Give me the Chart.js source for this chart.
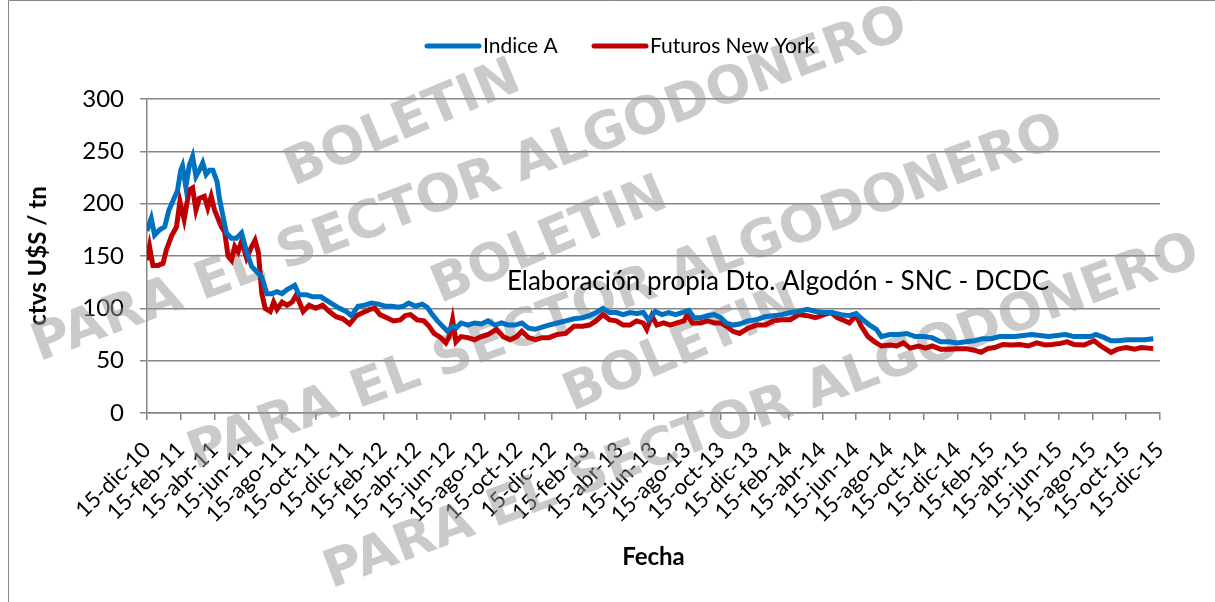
<!DOCTYPE html>
<html>
<head>
<meta charset="utf-8">
<script src="https://cdn.jsdelivr.net/npm/chart.js@4.4.1/dist/chart.umd.min.js"></script>
<style>
  html, body { margin: 0; padding: 0; background: #fff; }
  #wrap { position: relative; width: 1215px; height: 602px; }
</style>
</head>
<body>
<div id="wrap"><canvas id="chart" width="1215" height="602"></canvas></div>
<script>
// x values are months counted from 15-dic-10
const tickLabels = [
    '15-dic-10', '15-feb-11', '15-abr-11', '15-jun-11', '15-ago-11', '15-oct-11',
    '15-dic-11', '15-feb-12', '15-abr-12', '15-jun-12', '15-ago-12', '15-oct-12',
    '15-dic-12', '15-feb-13', '15-abr-13', '15-jun-13', '15-ago-13', '15-oct-13',
    '15-dic-13', '15-feb-14', '15-abr-14', '15-jun-14', '15-ago-14', '15-oct-14',
    '15-dic-14', '15-feb-15', '15-abr-15', '15-jun-15', '15-ago-15', '15-oct-15',
    '15-dic-15'
];

const indiceMonths = [
    0, 0.25, 0.45, 0.75, 1.05, 1.3, 1.6, 1.8, 2.0, 2.1,
    2.3, 2.5, 2.7, 2.9, 3.1, 3.3, 3.5, 3.7, 3.9, 4.15,
    4.3, 4.5, 4.7, 5.0, 5.3, 5.6, 5.9, 6.2, 6.5, 6.8,
    7.1, 7.4, 7.7, 8.0, 8.3, 8.75, 9.0, 9.45, 9.8, 10.3,
    10.8, 11.4, 11.8, 12.1, 12.5, 12.9, 13.3, 13.7, 14.1, 14.5,
    14.9, 15.2, 15.5, 15.9, 16.3, 16.6, 16.9, 17.2, 17.5, 17.8,
    18.1, 18.3, 18.6, 19.0, 19.4, 19.8, 20.2, 20.6, 21.0, 21.4,
    21.8, 22.2, 22.6, 23.0, 23.4, 23.8, 24.3, 24.8, 25.3, 25.8,
    26.2, 26.6, 27.0, 27.4, 27.8, 28.2, 28.6, 29.0, 29.4, 29.7,
    30.1, 30.5, 30.9, 31.3, 31.7, 32.1, 32.4, 32.8, 33.2, 33.6,
    34.0, 34.3, 34.7, 35.1, 35.6, 36.1, 36.6, 37.1, 37.6, 38.1,
    38.6, 39.1, 39.6, 40.1, 40.6, 41.1, 41.6, 42.0, 42.4, 42.8,
    43.2, 43.5, 44.0, 44.5, 45.0, 45.5, 46.0, 46.5, 47.0, 47.5,
    48.0, 48.5, 49.0, 49.5, 50.0, 50.5, 51.0, 51.4, 51.9, 52.4,
    52.9, 53.4, 53.9, 54.4, 54.9, 55.4, 55.9, 56.2, 56.7, 57.1,
    57.5, 58.1, 58.6, 59.1, 59.6
];
const indiceValues = [
    174, 186, 170, 175, 178, 194, 205, 212, 232, 236,
    216, 236, 245, 226, 232, 239, 228, 232, 232, 221,
    204, 188, 172, 167, 167, 172, 154, 140, 135, 130,
    114, 114, 116, 114, 118, 122, 113, 113, 111, 111,
    106, 100, 97, 93, 102, 103, 105, 104, 102, 102,
    101, 102, 105, 102, 104, 101, 94, 88, 83, 78,
    83, 81, 86, 84, 86, 85, 88, 84, 86, 84,
    84, 86, 81, 80, 82, 84, 86, 88, 90, 91,
    93, 96, 100, 96, 96, 94, 96, 95, 96, 89,
    97, 94, 96, 94, 96, 98, 91, 91, 93, 94,
    91, 86, 84, 85, 88, 89, 92, 93, 94, 96,
    97, 99, 97, 96, 96, 94, 93, 95, 89, 84,
    80, 73, 75, 75, 76, 73, 73, 72, 68, 68,
    67, 68, 69, 71, 71, 73, 73, 73, 74, 75,
    74, 73, 74, 75, 73, 73, 73, 75, 72, 69,
    69, 70, 70, 70, 71
];

const futurosMonths = [
    0, 0.15, 0.35, 0.65, 0.95, 1.15, 1.45, 1.75, 1.95, 2.2,
    2.5, 2.7, 2.9, 3.1, 3.4, 3.6, 3.8, 4.0, 4.2, 4.4,
    4.6, 4.8, 5.0, 5.2, 5.4, 5.6, 5.9, 6.2, 6.4, 6.6,
    6.8, 7.0, 7.3, 7.5, 7.7, 8.0, 8.3, 8.6, 8.85, 9.25,
    9.6, 10.0, 10.4, 10.8, 11.2, 11.6, 12.0, 12.4, 12.8, 13.2,
    13.5, 13.8, 14.2, 14.6, 15.0, 15.3, 15.6, 16.0, 16.4, 16.7,
    17.0, 17.4, 17.7, 17.9, 18.1, 18.3, 18.6, 19.0, 19.4, 19.8,
    20.2, 20.7, 21.1, 21.5, 21.9, 22.2, 22.6, 23.0, 23.4, 23.8,
    24.3, 24.8, 25.3, 25.8, 26.2, 26.6, 27.0, 27.4, 27.8, 28.2,
    28.6, 29.0, 29.4, 29.6, 29.9, 30.2, 30.6, 31.0, 31.4, 31.8,
    32.0, 32.3, 32.8, 33.2, 33.6, 34.0, 34.3, 34.7, 35.1, 35.6,
    36.1, 36.6, 37.1, 37.6, 38.1, 38.6, 39.1, 39.6, 40.1, 40.5,
    40.9, 41.2, 41.6, 42.0, 42.3, 42.7, 43.1, 43.5, 44.0, 44.4,
    44.8, 45.2, 45.7, 46.1, 46.5, 47.0, 47.5, 48.0, 48.5, 49.0,
    49.4, 49.8, 50.2, 50.7, 51.2, 51.7, 52.2, 52.7, 53.2, 53.6,
    54.1, 54.5, 54.9, 55.5, 56.1, 56.5, 57.1, 57.5, 58.0, 58.5,
    58.9, 59.6
];
const futurosValues = [
    146, 159, 141, 141, 143, 156, 169, 178, 202, 185,
    213, 215, 194, 205, 207, 196, 207, 194, 186, 178,
    173, 150, 146, 159, 154, 164, 148, 159, 165, 153,
    114, 100, 97, 106, 99, 106, 103, 106, 113, 97,
    103, 100, 103, 97, 92, 90, 85, 93, 96, 99,
    100, 94, 91, 88, 89, 93, 94, 89, 88, 83,
    76, 72, 67, 73, 89, 68, 73, 72, 70, 73,
    75, 80, 73, 70, 73, 78, 72, 70, 72, 72,
    75, 76, 83, 83, 84, 88, 94, 89, 88, 84,
    84, 88, 86, 80, 93, 84, 86, 84, 86, 88,
    94, 86, 86, 88, 86, 86, 83, 78, 76, 81,
    84, 84, 88, 89, 89, 94, 93, 91, 94, 96,
    91, 89, 86, 93, 83, 73, 68, 64, 65, 64,
    67, 62, 64, 62, 64, 61, 61, 61.5, 61.5, 60,
    58, 61.5, 62.5, 65.5, 65, 65.5, 64, 67, 65, 65.5,
    66.5, 68, 65.5, 65, 69, 64, 58, 61, 62.5, 61,
    62.5, 61.5
];

const seriesNames = ['Indice A', 'Futuros New York'];
const seriesColors = ['#0070C0', '#C00000'];
const noteText = 'Elaboración propia Dto. Algodón - SNC - DCDC';

const toPoints = (xs, ys) => xs.map((x, i) => ({ x: x, y: ys[i] }));

// watermark, legend, note and outer frame
const decorPlugin = {
    id: 'decor',
    beforeDatasetsDraw(chart) {
        const ctx = chart.ctx;
        // text, centre x, centre y, width, angle
        const marks = [
            ['BOLETIN', 403, 125, 250, -23],
            ['PARA EL SECTOR ALGODONERO', 470, 186, 930, -20.5],
            ['BOLETIN', 550, 242, 250, -23],
            ['PARA EL SECTOR ALGODONERO', 626, 294, 930, -20.5],
            ['BOLETIN', 682, 350, 250, -23],
            ['PARA EL SECTOR ALGODONERO', 762, 413, 930, -20.5]
        ];
        ctx.save();
        ctx.fillStyle = 'rgba(150,150,150,0.5)';
        ctx.font = 'bold 52px "DejaVu Sans"';
        ctx.textAlign = 'center';
        ctx.textBaseline = 'middle';
        marks.forEach(([t, x, y, w, a]) => {
            const sx = w / ctx.measureText(t).width;
            ctx.save();
            ctx.translate(x, y);
            ctx.rotate(a * Math.PI / 180);
            ctx.scale(sx, 1);
            ctx.fillText(t, 0, 0);
            ctx.restore();
        });
        ctx.restore();
    },
    afterDraw(chart) {
        const ctx = chart.ctx;
        ctx.save();
        // frame
        ctx.strokeStyle = '#888';
        ctx.lineWidth = 1;
        ctx.beginPath();
        ctx.moveTo(8.5, 602);
        ctx.lineTo(8.5, 0.5);
        ctx.lineTo(1215, 0.5);
        ctx.stroke();

        // note
        ctx.fillStyle = '#000';
        ctx.font = '26px Lato';
        ctx.textAlign = 'center';
        ctx.textBaseline = 'middle';
        ctx.fillText(noteText, 778, 282);

        // legend
        ctx.font = '21px Lato';
        ctx.textAlign = 'left';
        ctx.lineCap = 'round';
        ctx.lineWidth = 5;
        const legendX = [427, 594];
        chart.data.datasets.forEach((ds, i) => {
            const x = legendX[i];
            ctx.strokeStyle = ds.borderColor;
            ctx.beginPath();
            ctx.moveTo(x, 46);
            ctx.lineTo(x + 52, 46);
            ctx.stroke();
            ctx.fillText(ds.label, x + 56, 46);
        });
        ctx.restore();
    }
};

const chartEl = document.getElementById('chart');
window.myChart = new Chart(chartEl, {
    type: 'line',
    data: {
        datasets: [
            {
                label: seriesNames[0],
                data: toPoints(indiceMonths, indiceValues),
                borderColor: seriesColors[0],
                borderWidth: 5,
                pointRadius: 0,
                tension: 0
            },
            {
                label: seriesNames[1],
                data: toPoints(futurosMonths, futurosValues),
                borderColor: seriesColors[1],
                borderWidth: 5,
                pointRadius: 0,
                tension: 0
            }
        ]
    },
    options: {
        responsive: false,
        animation: false,
        layout: { padding: { left: 20, right: 55, top: 99, bottom: 30 } },
        plugins: {
            legend: { display: false },
            tooltip: { enabled: false }
        },
        scales: {
            x: {
                type: 'linear',
                min: 0,
                max: 60,
                afterBuildTicks(scale) {
                    scale.ticks = tickLabels.map((t, i) => ({ value: i * 2 }));
                },
                afterFit(scale) { scale.height = 159; },
                ticks: {
                    autoSkip: false,
                    maxRotation: 45,
                    minRotation: 45,
                    padding: 17,
                    color: '#000',
                    font: { family: 'Lato', size: 22 },
                    callback: (v, i) => tickLabels[i]
                },
                grid: {
                    drawOnChartArea: false,
                    color: '#868686',
                    lineWidth: 1.5,
                    tickLength: 7
                },
                border: { color: '#868686', width: 1.5 },
                title: {
                    display: true,
                    text: 'Fecha',
                    color: '#000',
                    font: { family: 'Lato', size: 24, weight: 'bold' },
                    padding: { top: 0, bottom: 0 }
                }
            },
            y: {
                min: 0,
                max: 300,
                afterFit(scale) { scale.width = 127; },
                ticks: {
                    stepSize: 50,
                    padding: 16,
                    color: '#000',
                    font: { family: 'Lato', size: 24 }
                },
                grid: {
                    color: '#868686',
                    lineWidth: 1.5,
                    tickLength: 7
                },
                border: { color: '#868686', width: 1.5 },
                title: {
                    display: true,
                    text: 'ctvs U$S / tn',
                    color: '#000',
                    font: { family: 'Lato', size: 24, weight: 'bold' },
                    padding: { top: 4, bottom: 0 }
                }
            }
        }
    },
    plugins: [decorPlugin]
});
</script>
</body>
</html>
